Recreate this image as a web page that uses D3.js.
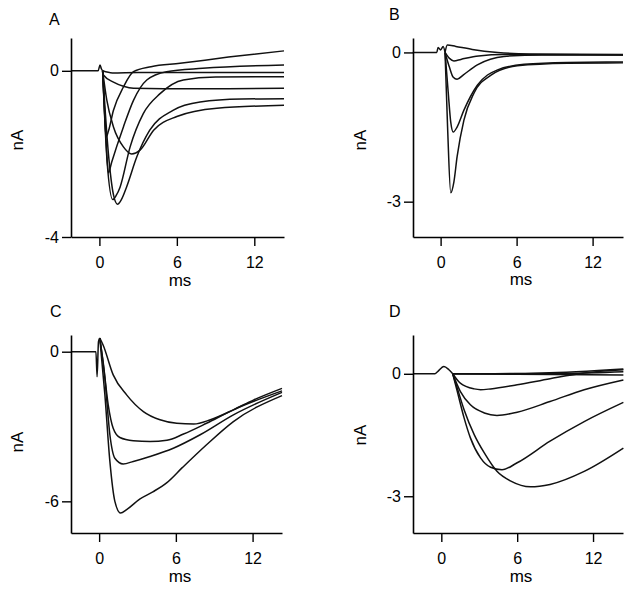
<html>
  <head>
    <script src="https://d3js.org/d3.v7.min.js"></script>
    <style>
      body { margin: 0; background: #fff; }
      text { font-family: "Liberation Sans", Arial, sans-serif; fill: #000; }
    </style>
  </head>
  <body>
    <svg width="634" height="591" id="chart"></svg>
  </body>

  <script type="text/javascript">
    // x tick labels (ms) shared by all panels
    var xTicks = [0, 6, 12];

    // panel A - pre-stimulus baseline and traces, [ms, nA]
    var baseA = [[-2.2,0],[-0.1,0],[0.05,0.14],[0.15,0.05],[0.25,0]];
    var traceA1 = [[0.25,0],[0.4,-1.0],[0.52,-1.59],[0.7,-1.45],[1.09,-0.95],[1.86,-0.39],[2.64,-0.02],[4,0.1],[6.25,0.18],[10,0.33],[14.3,0.48]];
    var traceA2 = [[0.25,0],[0.5,-1.6],[0.7,-2.46],[0.95,-2.2],[1.86,-1.35],[2.64,-0.71],[3.67,-0.22],[5.2,-0.02],[8,0.06],[14.3,0.14]];
    var traceA3 = [[0.25,0],[0.6,-2.2],[1.04,-3.1],[1.3,-3.0],[1.6,-2.8],[2.38,-1.83],[3.4,-1.03],[4.7,-0.55],[6.5,-0.22],[9,-0.15],[14.3,-0.14]];
    var traceA4 = [[0.25,0],[0.7,-2.0],[1.1,-3.0],[1.4,-3.21],[1.7,-3.1],[2.1,-2.8],[2.9,-2.07],[3.9,-1.43],[5.7,-0.95],[7.8,-0.75],[11,-0.68],[14.3,-0.67]];
    var traceA5 = [[0.25,0],[0.57,-0.7],[1.09,-1.35],[1.86,-1.83],[2.5,-2.0],[3.15,-1.91],[4.2,-1.43],[6.0,-1.1],[9.1,-0.9],[14.3,-0.83]];
    var traceA6 = [[0.25,0],[0.31,-0.1],[1.09,-0.27],[1.86,-0.37],[2.64,-0.42],[5,-0.43],[10,-0.43],[14.3,-0.42]];
    var traceA7 = [[0.25,0],[1,-0.05],[3,-0.04],[8,-0.04],[14.3,-0.04]];

    // panel B
    var baseB = [[-2.2,0],[-0.3,0],[-0.2,0.1],[0,0.05],[0.2,0.12],[0.35,0]];
    var traceB1 = [[0.35,0],[0.53,0.15],[1.2,0.12],[2.5,0.06],[4.5,0],[7,-0.03],[14.4,-0.04]];
    var traceB2 = [[0.35,0],[0.7,-0.12],[1.05,-0.17],[1.6,-0.14],[3,-0.07],[5,-0.04],[14.4,-0.05]];
    var traceB3 = [[0.35,0],[0.7,-0.3],[1.0,-0.5],[1.3,-0.54],[1.8,-0.45],[2.9,-0.25],[5,-0.08],[8,-0.05],[14.4,-0.05]];
    var traceB4 = [[0.35,0],[0.6,-0.8],[0.8,-1.4],[1.0,-1.6],[1.3,-1.5],[1.84,-1.16],[2.9,-0.66],[4.5,-0.35],[6.6,-0.24],[10,-0.2],[14.4,-0.19]];
    var traceB5 = [[0.35,0],[0.55,-1.5],[0.8,-2.82],[1.05,-2.6],[1.3,-2.1],[1.84,-1.36],[2.63,-0.82],[3.95,-0.46],[6.05,-0.27],[10,-0.22],[14.4,-0.21]];

    // panel C
    var baseC = [[-2.2,0],[-0.25,0],[-0.16,-1.0],[-0.05,0.4],[0.05,0.55]];
    var traceC1 = [[0.05,0.55],[0.31,0.27],[1.1,-0.93],[2.15,-1.73],[3.46,-2.4],[4.76,-2.73],[6.07,-2.87],[7.4,-2.9],[8.7,-2.73],[10.5,-2.33],[12.1,-1.93],[14.3,-1.47]];
    var traceC2 = [[0.05,0.55],[0.31,-0.4],[0.71,-2.13],[1.1,-3.07],[1.62,-3.44],[2.67,-3.57],[3.98,-3.6],[5.3,-3.55],[6.6,-3.3],[8.4,-2.87],[10.5,-2.33],[14.3,-1.57]];
    var traceC3 = [[0.05,0.55],[0.45,-1.07],[0.84,-3.33],[1.23,-4.27],[1.88,-4.5],[2.67,-4.4],[3.98,-4.2],[5.8,-3.87],[7.9,-3.33],[10.5,-2.53],[14.3,-1.63]];
    var traceC4 = [[0.05,0.55],[0.45,-1.73],[0.84,-4.4],[1.23,-6.0],[1.68,-6.47],[2.15,-6.33],[3.2,-5.9],[4.2,-5.62],[5.3,-5.25],[6.5,-4.65],[8.4,-3.73],[10.5,-2.8],[14.3,-1.76]];

    // panel D
    var baseD = [[-2.2,0],[-0.5,0],[-0.3,0.05],[0.2,0.18],[0.6,0.1],[0.9,0]];
    var traceD0a = [[0.9,0],[3,0],[8,0.02],[14.4,0.12]];
    var traceD0b = [[0.9,0],[5,0],[10,0.01],[14.4,0.05]];
    var traceD0c = [[0.9,0],[6,-0.01],[14.4,-0.03]];
    var traceD1 = [[0.9,0],[1.5,-0.23],[2.6,-0.37],[3.1,-0.39],[3.9,-0.37],[6,-0.27],[8.6,-0.12],[11.3,0.02],[14.4,0.1]];
    var traceD2 = [[0.9,0],[1.5,-0.43],[2.3,-0.76],[3.4,-0.96],[4.4,-1.02],[6,-0.94],[8.6,-0.68],[11.3,-0.39],[14.4,-0.15]];
    var traceD3 = [[0.9,0],[1.26,-0.43],[1.8,-1.08],[2.3,-1.57],[3.1,-2.06],[3.9,-2.29],[4.8,-2.35],[6,-2.18],[8.6,-1.65],[11.3,-1.17],[14.4,-0.7]];
    var traceD4 = [[0.9,0],[1.26,-0.35],[1.8,-0.88],[2.6,-1.49],[3.4,-1.94],[4.4,-2.39],[5.5,-2.63],[7.05,-2.77],[8.6,-2.71],[11.3,-2.39],[14.4,-1.82]];

    var panels = [
      { name: "A", x: [71, 284], y: [237, 38], xd: [-2.2, 14.3], yd: [-4, 0.79], yTicks: [0, -4],
        letter: [49, 25], nA: [23, 140], ms: [180, 286],
        traces: [baseA, traceA7, traceA6, traceA1, traceA2, traceA3, traceA4, traceA5] },
      { name: "B", x: [413, 623], y: [237, 38], xd: [-2.18, 14.4], yd: [-3.71, 0.29], yTicks: [0, -3],
        letter: [389, 20], nA: [366, 140], ms: [521, 285],
        traces: [baseB, traceB1, traceB2, traceB3, traceB4, traceB5] },
      { name: "C", x: [71, 282], y: [533, 335], xd: [-2.2, 14.3], yd: [-7.27, 0.67], yTicks: [0, -6],
        letter: [50, 317], nA: [23, 442], ms: [180, 582],
        traces: [baseC, traceC1, traceC2, traceC3, traceC4] },
      { name: "D", x: [413, 623], y: [533, 335], xd: [-2.24, 14.37], yd: [-3.9, 0.95], yTicks: [0, -3],
        letter: [389, 317], nA: [366, 435], ms: [521, 582],
        traces: [baseD, traceD0a, traceD0b, traceD0c, traceD1, traceD2, traceD3, traceD4] }
    ];

    var svg = d3.select("#chart");

    panels.forEach(function(p) {
      var xScale = d3.scaleLinear().domain(p.xd).range(p.x);
      var yScale = d3.scaleLinear().domain(p.yd).range(p.y);

      var line = d3.line()
        .x(function(d){ return xScale(d[0]); })
        .y(function(d){ return yScale(d[1]); })
        .curve(d3.curveMonotoneX);

      var g = svg.append("g");

      g.selectAll("path.trace")
        .data(p.traces)
        .enter().append("path")
        .attr("class", "trace")
        .attr("d", line)
        .attr("fill", "none")
        .attr("stroke", "#111")
        .attr("stroke-width", 1.5);

      var yAxis = d3.axisLeft(yScale)
        .tickValues(p.yTicks)
        .tickFormat(d3.format("d"))
        .tickSize(9).tickSizeOuter(0).tickPadding(3);

      var xAxis = d3.axisBottom(xScale)
        .tickValues(xTicks)
        .tickSize(9).tickSizeOuter(0).tickPadding(11);

      var ya = g.append("g")
        .attr("transform", "translate(" + p.x[0] + ",0)")
        .call(yAxis);
      var xa = g.append("g")
        .attr("transform", "translate(0," + p.y[0] + ")")
        .call(xAxis);

      [ya, xa].forEach(function(a) {
        a.select(".domain").attr("stroke", "#000").attr("stroke-width", 1.6);
        a.selectAll(".tick line").attr("stroke", "#000").attr("stroke-width", 1.4);
        a.selectAll(".tick text")
          .attr("fill", "#000")
          .style("font-size", "16px")
          .style("font-family", "'Liberation Sans', Arial, sans-serif");
      });
      // minus sign looks like a hyphen in the figure
      ya.selectAll(".tick text").text(function(d){ return d < 0 ? "-" + Math.abs(d) : d; });

      g.append("text")
        .attr("x", p.letter[0]).attr("y", p.letter[1])
        .style("font-size", "16px")
        .text(p.name);

      g.append("text")
        .attr("transform", "translate(" + p.nA[0] + "," + p.nA[1] + ") rotate(-90)")
        .attr("text-anchor", "middle")
        .style("font-size", "17px")
        .text("nA");

      g.append("text")
        .attr("x", p.ms[0]).attr("y", p.ms[1])
        .attr("text-anchor", "middle")
        .style("font-size", "17px")
        .text("ms");
    });
  </script>
</html>
